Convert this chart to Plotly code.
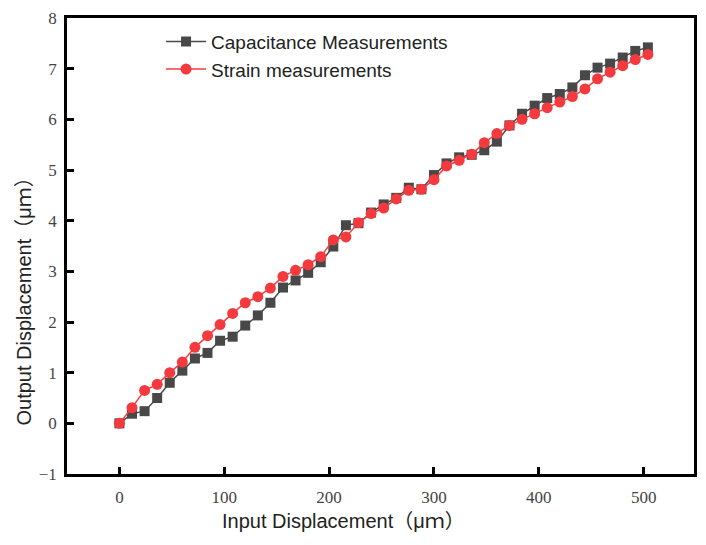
import plotly.graph_objects as go

input_um = [0, 12, 24, 36, 48, 60, 72, 84, 96, 108, 120, 132, 144, 156, 168, 180, 192, 204,
            216, 228, 240, 252, 264, 276, 288, 300, 312, 324, 336, 348, 360, 372, 384, 396,
            408, 420, 432, 444, 456, 468, 480, 492, 504]
capacitance = [0, 0.19, 0.24, 0.5, 0.8, 1.04, 1.28, 1.39, 1.63, 1.71, 1.93, 2.13, 2.38, 2.68,
               2.82, 2.97, 3.18, 3.49, 3.91, 3.95, 4.16, 4.32, 4.45, 4.65, 4.62, 4.9, 5.13,
               5.25, 5.3, 5.39, 5.56, 5.88, 6.11, 6.27, 6.42, 6.5, 6.63, 6.87, 7.02, 7.1,
               7.22, 7.35, 7.42]
strain = [0, 0.31, 0.65, 0.77, 1.0, 1.21, 1.5, 1.73, 1.95, 2.17, 2.38, 2.5, 2.67, 2.9, 3.02,
          3.13, 3.29, 3.62, 3.68, 3.96, 4.14, 4.25, 4.43, 4.6, 4.62, 4.81, 5.08, 5.19, 5.31,
          5.54, 5.72, 5.88, 6.0, 6.11, 6.23, 6.34, 6.45, 6.6, 6.8, 6.93, 7.06, 7.18, 7.28]

x_ticks = [0, 100, 200, 300, 400, 500]
y_ticks = [-1, 0, 1, 2, 3, 4, 5, 6, 7, 8]

fig = go.Figure()
fig.add_trace(go.Scatter(
    x=input_um, y=capacitance, mode="lines+markers", name="Capacitance Measurements",
    line=dict(color="#4a4a4a", width=1.5),
    marker=dict(symbol="square", size=10, color="#484848"),
))
fig.add_trace(go.Scatter(
    x=input_um, y=strain, mode="lines+markers", name="Strain measurements",
    line=dict(color="#ff3b3b", width=1.5),
    marker=dict(symbol="circle", size=11, color="#f43a3f"),
))

tickfont = dict(family="Liberation Serif, Times New Roman, serif", size=17, color="#444444")
axis_common = dict(
    showline=True, linecolor="black", linewidth=2.5, mirror=True,
    ticks="inside", ticklen=7, tickwidth=2.5, tickcolor="black",
    showgrid=False, zeroline=False, tickfont=tickfont,
)
fig.update_xaxes(range=[-50, 548], tickvals=x_ticks, ticklabelstandoff=6, **axis_common)
fig.update_yaxes(range=[-1, 8], tickvals=y_ticks, ticklabelstandoff=4, **axis_common)

title_font = dict(family="Liberation Sans, Arial, Noto Sans CJK SC, sans-serif", size=20, color="#222222")
fig.add_annotation(text="Input Displacement（μｍ）", xref="paper", yref="paper",
                   x=0.441, y=-0.104, showarrow=False, font=title_font,
                   xanchor="center", yanchor="middle")
fig.add_annotation(text="Output Displacement（μｍ）", xref="paper", yref="paper",
                   x=-0.068, y=0.39, showarrow=False, font=title_font, textangle=-90,
                   xanchor="center", yanchor="middle")

fig.update_layout(
    width=706, height=545,
    margin=dict(l=67, r=9, t=13, b=71),
    plot_bgcolor="white", paper_bgcolor="white",
    showlegend=True,
    legend=dict(x=0.15, y=0.99, xanchor="left", yanchor="top",
                bgcolor="rgba(0,0,0,0)", borderwidth=0,
                font=dict(family="Liberation Sans, Arial, sans-serif", size=19, color="#222222"),
                tracegroupgap=0, itemwidth=40),
)

fig.write_html("out.html")
